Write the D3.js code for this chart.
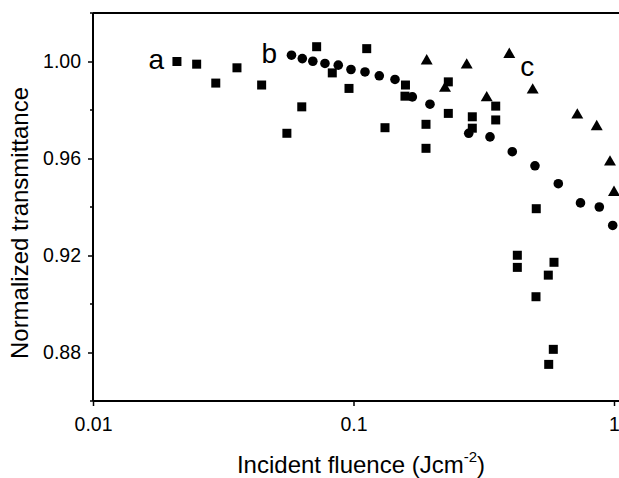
<!DOCTYPE html>
<html>
<head>
<meta charset="utf-8">
<script src="https://cdn.jsdelivr.net/npm/d3@7"></script>
<style>
  body { margin: 0; background: #fff; }
  svg { display: block; font-family: "Liberation Sans", Arial, sans-serif; }
</style>
</head>
<body>
<div id="chart"></div>
<script>
// series a: squares
const fluenceA = [0.0210, 0.0250, 0.0296, 0.0357, 0.0444, 0.0555, 0.0633, 0.0722, 0.0829, 0.0961,
                  0.1124, 0.1321, 0.1583, 0.1576, 0.1898, 0.1898, 0.2312, 0.2312, 0.2858, 0.2858,
                  0.3515, 0.3515, 0.5030, 0.4255, 0.4255, 0.5884, 0.5595, 0.5018, 0.5848, 0.5615];
const transA = [1.0000, 0.9989, 0.9911, 0.9974, 0.9903, 0.9704, 0.9813, 1.0061, 0.9953, 0.9889,
                1.0053, 0.9727, 0.9903, 0.9857, 0.9741, 0.9642, 0.9916, 0.9786, 0.9772, 0.9725,
                0.9816, 0.9759, 0.9393, 0.9201, 0.9151, 0.9172, 0.9119, 0.9030, 0.8813, 0.8751];

// series b: circles
const fluenceB = [0.0578, 0.0636, 0.0698, 0.0777, 0.0874, 0.0978, 0.1107, 0.1256, 0.1443, 0.1682,
                  0.1966, 0.2769, 0.3342, 0.4069, 0.4973, 0.6112, 0.7436, 0.8782, 0.9886];
const transB = [1.0026, 1.0012, 1.0001, 0.9992, 0.9985, 0.9967, 0.9957, 0.9941, 0.9926, 0.9854,
                0.9824, 0.9704, 0.9689, 0.9628, 0.9570, 0.9496, 0.9417, 0.9400, 0.9324];

// series c: triangles
const fluenceC = [0.1910, 0.2245, 0.2720, 0.3246, 0.3963, 0.4874, 0.7230, 0.8583, 0.9652, 1.0000];
const transC = [1.0002, 0.9889, 0.9985, 0.9850, 1.0029, 0.9882, 0.9779, 0.9731, 0.9585, 0.9460];

// curve labels
const labelNames = ["a", "b", "c"];
const labelX = [0.0175, 0.0475, 0.4650];
const labelY = [1.0010, 1.0035, 0.9980];

const xTicks = [0.01, 0.1, 1];
const xTickLabels = ["0.01", "0.1", "1"];
const yTicks = [0.88, 0.92, 0.96, 1.00];
const yMinorTicks = [0.86, 0.90, 0.94, 0.98, 1.02];

const W = 619, H = 478;
const margin = {top: 13, left: 93, bottom: 401};

const svg = d3.select("#chart").append("svg")
    .attr("width", W)
    .attr("height", H);

const x = d3.scaleLog().domain([0.01, 1]).range([93, 614]);
const y = d3.scaleLinear().domain([0.86, 1.02]).range([margin.bottom, margin.top]);

// frame
const frame = svg.append("g").attr("stroke", "#000").attr("stroke-width", 2).attr("fill", "none");
frame.append("line").attr("x1", margin.left).attr("x2", W + 2).attr("y1", margin.top).attr("y2", margin.top);
frame.append("line").attr("x1", margin.left).attr("x2", W + 2).attr("y1", margin.bottom).attr("y2", margin.bottom);
frame.append("line").attr("x1", margin.left).attr("x2", margin.left).attr("y1", margin.top).attr("y2", margin.bottom);

// y axis
const yAxis = svg.append("g")
    .attr("transform", `translate(${margin.left},0)`)
    .call(d3.axisLeft(y).tickValues(yTicks).tickFormat(d3.format(".2f")).tickSize(5).tickPadding(7));
yAxis.select(".domain").remove();
yAxis.selectAll(".tick line").attr("stroke-width", 1.5);
yAxis.selectAll("text").attr("font-size", 19.5).attr("fill", "#000").attr("font-family", null);

svg.append("g").selectAll("line")
    .data(yMinorTicks)
    .join("line")
    .attr("x1", margin.left - 3).attr("x2", margin.left)
    .attr("y1", d => y(d)).attr("y2", d => y(d))
    .attr("stroke", "#000").attr("stroke-width", 1.5);

// x axis
const xAxis = svg.append("g")
    .attr("transform", `translate(0,${margin.bottom})`)
    .call(d3.axisBottom(x).tickValues(xTicks).tickFormat((d, i) => xTickLabels[i]).tickSize(5).tickPadding(11));
xAxis.select(".domain").remove();
xAxis.selectAll(".tick line").attr("stroke-width", 1.5);
xAxis.selectAll("text").attr("font-size", 19.5).attr("fill", "#000").attr("font-family", null);

// axis titles
svg.append("text")
    .attr("transform", "translate(28,223) rotate(-90)")
    .attr("text-anchor", "middle")
    .attr("font-size", 24)
    .text("Normalized transmittance");

const xt = svg.append("text")
    .attr("x", 361).attr("y", 473)
    .attr("text-anchor", "middle")
    .attr("font-size", 24);
xt.append("tspan").text("Incident fluence (Jcm");
xt.append("tspan").attr("font-size", 15).attr("dy", -11).text("-2");
xt.append("tspan").attr("dy", 11).text(")");

// markers
const plot = svg.append("g").attr("fill", "#000");

plot.selectAll(".sq")
    .data(d3.zip(fluenceA, transA))
    .join("rect")
    .attr("class", "sq")
    .attr("x", d => x(d[0]) - 4.5)
    .attr("y", d => y(d[1]) - 4.5)
    .attr("width", 9).attr("height", 9);

plot.selectAll(".ci")
    .data(d3.zip(fluenceB, transB))
    .join("circle")
    .attr("class", "ci")
    .attr("cx", d => x(d[0]))
    .attr("cy", d => y(d[1]))
    .attr("r", 4.8);

const tri = d3.symbol().type(d3.symbolTriangle).size(62);
plot.selectAll(".tr")
    .data(d3.zip(fluenceC, transC))
    .join("path")
    .attr("class", "tr")
    .attr("transform", d => `translate(${x(d[0])},${y(d[1])})`)
    .attr("d", tri);

// curve labels
svg.append("g").selectAll("text")
    .data(labelNames)
    .join("text")
    .attr("x", (d, i) => x(labelX[i]))
    .attr("y", (d, i) => y(labelY[i]))
    .attr("dy", "0.35em")
    .attr("text-anchor", "middle")
    .attr("font-size", 28)
    .text(d => d);
</script>
</body>
</html>
